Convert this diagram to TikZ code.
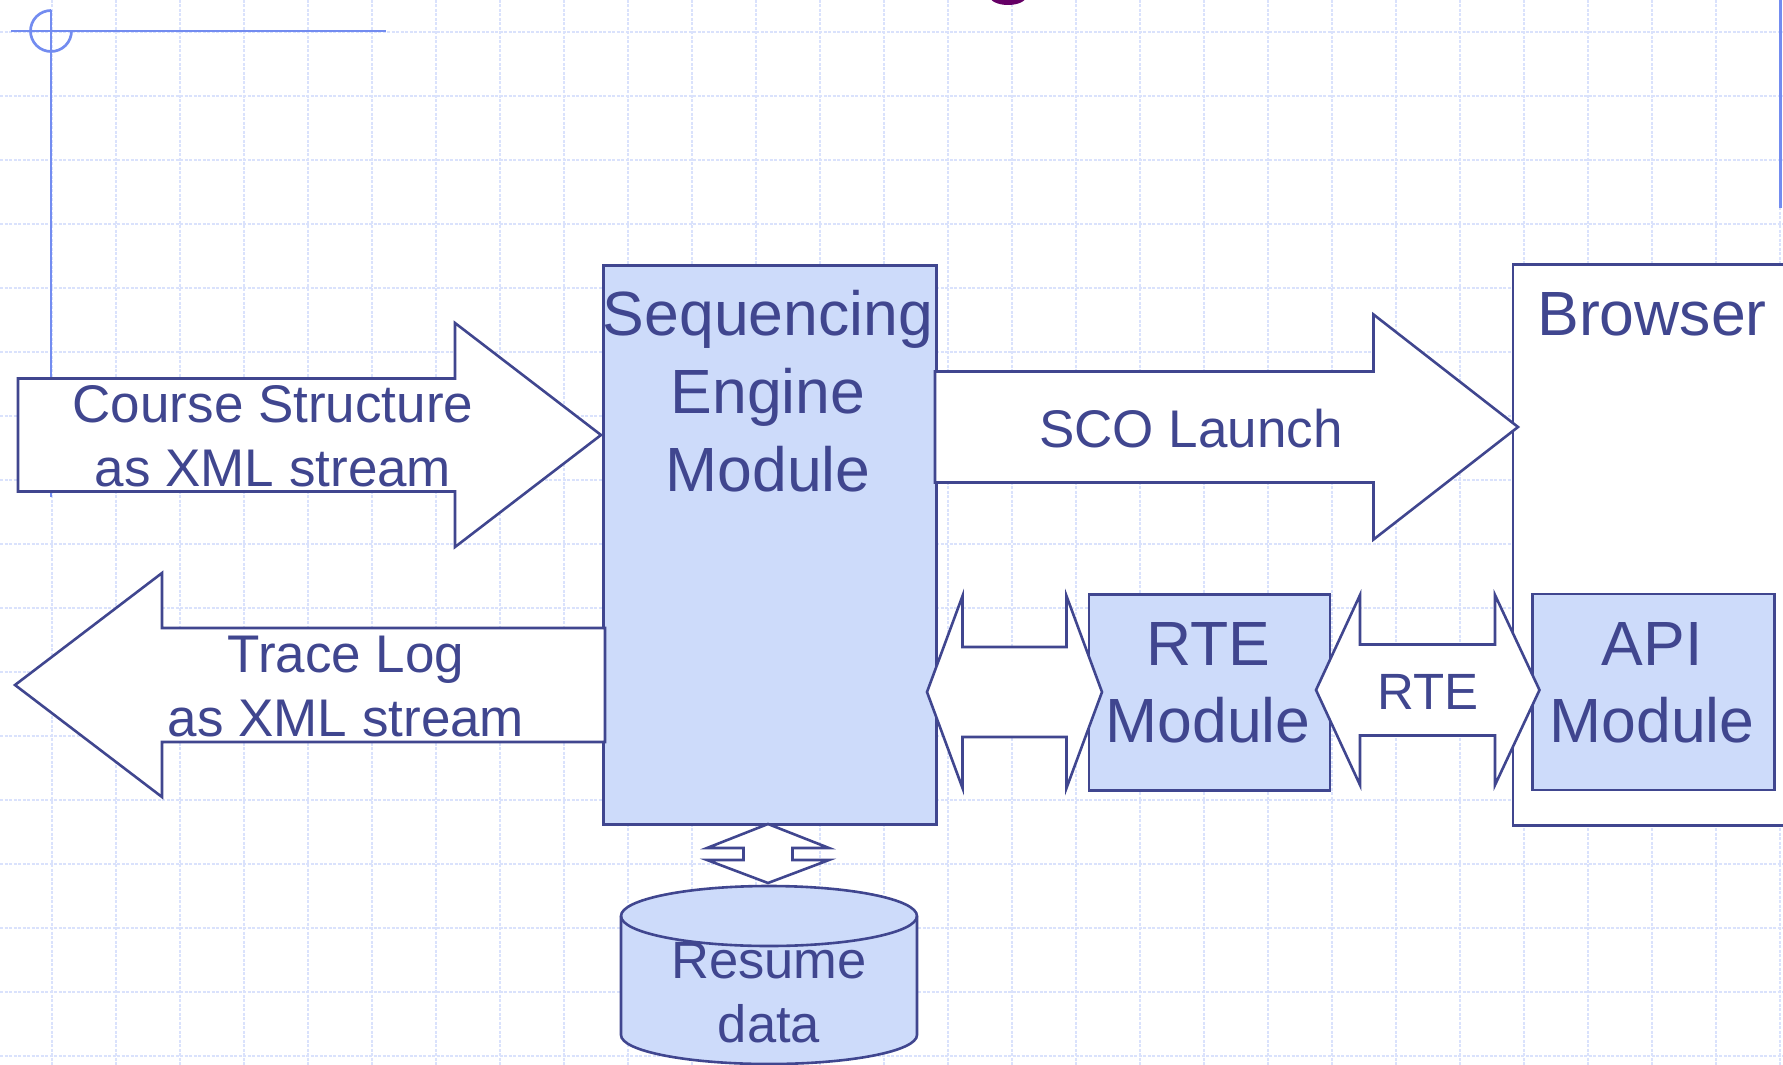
\documentclass[tikz,border=0pt]{standalone}
\usepackage{fontspec}
\setmainfont{Liberation Sans}
\definecolor{ink}{RGB}{64,70,143}
\definecolor{panel}{RGB}{205,219,250}
\definecolor{rulec}{RGB}{115,140,240}
\definecolor{gridc}{RGB}{218,226,252}
\definecolor{dotc}{RGB}{102,0,102}
\newcommand\fsz[2]{\fontsize{#1}{#2}\selectfont}
% horizontal block arrow: tail x, head base x, tip x, mid y, body half height, head half height
\newcommand\harrow[6]{%
  \draw[blockarrow] (#1,#4-#5) -- (#2,#4-#5) -- (#2,#4-#6) -- (#3,#4)
    -- (#2,#4+#6) -- (#2,#4+#5) -- (#1,#4+#5) -- cycle;}
% horizontal double block arrow: left tip, left base, right base, right tip, mid y, body half, head half
\newcommand\hdarrow[7]{%
  \draw[blockarrow] (#1,#5) -- (#2,#5-#7) -- (#2,#5-#6) -- (#3,#5-#6) -- (#3,#5-#7)
    -- (#4,#5) -- (#3,#5+#7) -- (#3,#5+#6) -- (#2,#5+#6) -- (#2,#5+#7) -- cycle;}
% vertical double block arrow: top tip, upper base, lower base, bottom tip, mid x, body half, head half
\newcommand\vdarrow[7]{%
  \draw[blockarrow] (#5,#1) -- (#5+#7,#2) -- (#5+#6,#2) -- (#5+#6,#3) -- (#5+#7,#3)
    -- (#5,#4) -- (#5-#7,#3) -- (#5-#6,#3) -- (#5-#6,#2) -- (#5-#7,#2) -- cycle;}
\begin{document}
\begin{tikzpicture}[x=1pt,y=-1pt,
  outline/.style={draw=ink, line width=2.6pt, line join=miter},
  panelbox/.style={outline, fill=panel, inner sep=0pt, anchor=north west},
  plainbox/.style={outline, fill=white, inner sep=0pt, anchor=north west},
  blockarrow/.style={outline, fill=white},
  lbl/.style={text=ink, align=center, inner sep=0pt, anchor=base},
  big/.style={font=\fsz{62.5}{78}},
  mid/.style={font=\fsz{53}{63.5}},
  gridline/.style={gridc, line width=2.8pt, dash pattern=on 3pt off 1.5pt},
  decor/.style={rulec, line width=2.7pt},
]
\useasboundingbox (0,0) rectangle (1783,1065);
\begin{scope}
\clip (0,0) rectangle (1783,1065);

% background grid
\foreach \gx in {52,116,...,1780} \draw[gridline] (\gx,0) -- (\gx,1065);
\foreach \gy in {32,96,...,1056} \draw[gridline] (0,\gy) -- (1783,\gy);

% corner rules and mark
\draw[decor] (11,31) -- (386,31);
\draw[decor] (51,10) -- (51,497);
\draw[decor] (71.5,31) arc[start angle=0, end angle=270, radius=20.5];
\draw[decor, line width=3pt] (1780,0) -- (1780,208);
\fill[dotc] (1008,-4) ellipse [x radius=18.5, y radius=9];

% modules
\node[panelbox, minimum width=333pt, minimum height=559pt] (seq) at (602,264) {};
\node[plainbox, minimum width=300pt, minimum height=561pt] (browser) at (1511.5,263) {};
\node[panelbox, minimum width=241pt, minimum height=196pt] (rte) at (1087.5,593) {};
\node[panelbox, minimum width=242pt, minimum height=196pt] (api) at (1531,592.5) {};

% resume data store
\path[outline, fill=panel] (621,916) -- (621,1035)
  arc[start angle=180, end angle=0, x radius=148, y radius=29] -- (917,916)
  arc[start angle=0, end angle=-180, x radius=148, y radius=30] -- cycle;
\draw[outline] (621,916) arc[start angle=180, end angle=0, x radius=148, y radius=30];
\coordinate (storetop) at (769,886);

% data flows
\harrow{18}{455}{601}{435}{56.5}{112}
\harrow{605}{162}{15}{685}{57}{112}
\harrow{935}{1373.5}{1518}{427}{55.5}{112.5}
\hdarrow{927}{962.5}{1066.5}{1102}{692}{45}{96}
\hdarrow{1316}{1360}{1495}{1539.5}{690}{45.5}{95}
\vdarrow{824}{848}{860}{883}{768}{24.5}{61}

% labels (anchored at the baseline of the last line)
\node[lbl, big] (seqlbl) at (768,491) {Sequencing\\Engine\\Module};
\node[lbl, big] (browserlbl) at (1652,335) {Browser};
\node[lbl, big, font=\fsz{62.5}{77}] (rtelbl) at (1208,742) {RTE\\Module};
\node[lbl, big, font=\fsz{62.5}{77}] (apilbl) at (1652,742) {API\\Module};
\node[lbl, mid] (courselbl) at (273,486) {Course Structure\\as XML stream};
\node[lbl, mid] (tracelbl) at (346,736) {Trace Log\\as XML stream};
\node[lbl, mid] (scolbl) at (1191,447) {SCO Launch};
\node[lbl, font=\fsz{51}{60}] (rtelink) at (1428,709) {RTE};
\node[lbl, font=\fsz{52.5}{64}] (resumelbl) at (769,1042) {Resume\\data};
\end{scope}
\end{tikzpicture}
\end{document}
